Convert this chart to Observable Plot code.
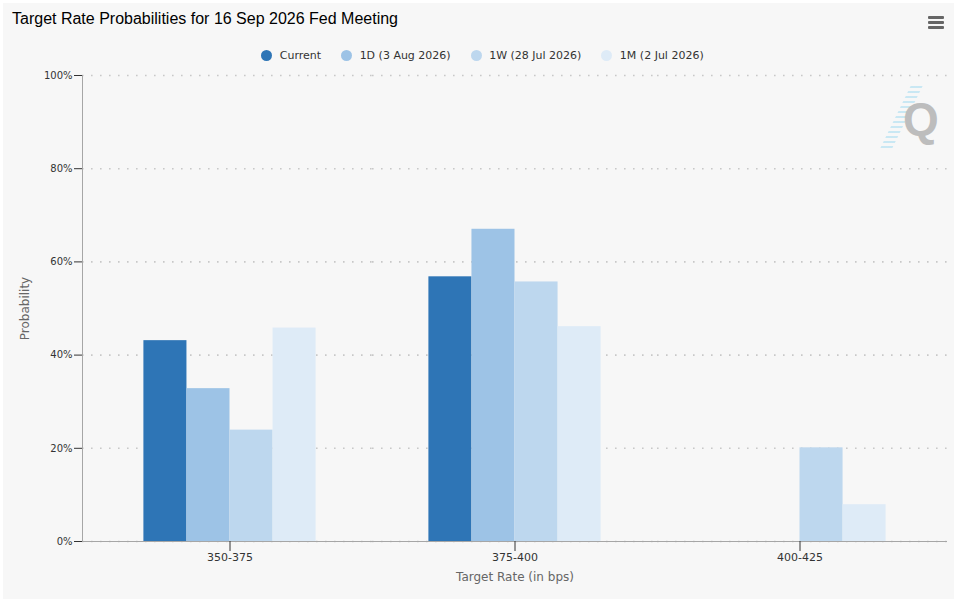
<!DOCTYPE html>
<html>
<head>
<meta charset="utf-8">
<script src="https://cdn.jsdelivr.net/npm/d3@7"></script>
<script src="https://cdn.jsdelivr.net/npm/@observablehq/plot@0.6"></script>
<style>
  html, body { margin: 0; padding: 0; background: #ffffff; }
  body { width: 957px; height: 602px; position: relative; overflow: hidden; }
  #card { position: absolute; left: 3px; top: 3px; width: 951px; height: 596px; background: #f7f7f7; }
  #title { position: absolute; left: 12px; top: 8px; font-family: "Liberation Sans", Arial, sans-serif; font-size: 16px; line-height: 22px; color: #000; white-space: nowrap; }
  #legend { position: absolute; left: 7px; width: 951px; top: 48px; height: 14px; display: flex; justify-content: center; align-items: center; font-family: "DejaVu Sans", sans-serif; font-size: 11px; color: #333; }
  .item { display: flex; align-items: center; margin: 0 10px; white-space: nowrap; }
  .dot { width: 11px; height: 11px; border-radius: 50%; margin-right: 7.5px; }
  #menu { position: absolute; left: 928px; top: 16px; width: 16px; }
  #menu div { height: 3px; background: #666; margin-bottom: 2px; border-radius: 1px; }
  #logoQ { position: absolute; left: 903px; top: 96px; font-family: "Liberation Sans", Arial, sans-serif; font-weight: bold; font-size: 46px; line-height: 46px; color: #bdbdbd; }
  #logoLines { position: absolute; left: 895px; top: 86px; width: 12px; height: 64px; transform: skewX(-26deg); background: repeating-linear-gradient(to bottom, #c4e6f3 0 1.5px, transparent 1.5px 5px); opacity: 0.9; }
  #chart { position: absolute; left: 0; top: 60px; }
  #chart g[aria-label="y-axis tick label"] { font-size: 10px; fill: #333; }
  #chart g[aria-label="fx-axis tick label"] { font-size: 11px; fill: #333; }
  #chart g[aria-label="y-axis label"], #chart g[aria-label="fx-axis label"] { font-size: 12px; fill: #666; }
  #chart g[aria-label="y-axis tick"], #chart g[aria-label="fx-axis tick"] { stroke: #a6a6a6; }
</style>
</head>
<body>
<div id="card"></div>
<div id="title">Target Rate Probabilities for 16 Sep 2026 Fed Meeting</div>
<div id="legend"></div>
<div id="menu"><div></div><div></div><div></div></div>
<div id="logoLines"></div>
<div id="logoQ">Q</div>
<div id="chart"></div>
<script>
// ---- data ----
const categories = ["350-375", "375-400", "400-425"];
const seriesNames = ["Current", "1D (3 Aug 2026)", "1W (28 Jul 2026)", "1M (2 Jul 2026)"];
const current = [43.1, 56.8, 0];
const oneDay = [32.8, 67.0, 0];
const oneWeek = [23.9, 55.7, 20.1];
const oneMonth = [45.8, 46.1, 7.9];
const seriesColors = ["#2e75b6", "#9dc3e6", "#bdd7ee", "#deebf7"];
const yTicks = [0, 20, 40, 60, 80, 100];
const xLabel = "Target Rate (in bps)";
const yLabel = "Probability";

// ---- table ----
const seriesValues = [current, oneDay, oneWeek, oneMonth];
const rows = [];
categories.forEach((c, i) => {
  seriesNames.forEach((s, j) => {
    rows.push({category: c, series: s, value: seriesValues[j][i]});
  });
});
// grid rows per facet, so the outer facets can extend to the plot edge
const gridRows = categories.flatMap(c => yTicks.map(t => ({category: c, tick: t})));
const edge = 5; // outer facet padding in px (fx paddingOuter)
const gridStyle = {stroke: "#c8c8c8", strokeOpacity: 1, strokeWidth: 1.6, strokeDasharray: "1.6,7.4"};
const last = categories.length - 1;

// ---- legend ----
const legend = document.getElementById("legend");
seriesNames.forEach((s, j) => {
  const item = document.createElement("div");
  item.className = "item";
  const dot = document.createElement("span");
  dot.className = "dot";
  dot.style.background = seriesColors[j];
  const label = document.createElement("span");
  label.textContent = s;
  item.appendChild(dot);
  item.appendChild(label);
  legend.appendChild(item);
});

// ---- chart ----
const chart = Plot.plot({
  width: 957,
  height: 535,
  marginTop: 15,
  marginLeft: 80,
  marginRight: 9,
  marginBottom: 54,
  style: {background: "transparent", fontFamily: "DejaVu Sans, sans-serif", fontSize: "11px", color: "#333", overflow: "visible"},
  fx: {domain: categories, paddingInner: 0, paddingOuter: 0.0175},
  x: {domain: seriesNames, axis: null, paddingInner: 0, paddingOuter: 1.31, round: false},
  y: {domain: [0, 100]},
  color: {domain: seriesNames, range: seriesColors},
  marks: [
    Plot.ruleY(gridRows.filter(d => d.category === categories[0]), {fx: "category", y: "tick", insetLeft: -edge, ...gridStyle}),
    Plot.ruleY(gridRows.filter(d => d.category !== categories[0] && d.category !== categories[last]), {fx: "category", y: "tick", ...gridStyle}),
    Plot.ruleY(gridRows.filter(d => d.category === categories[last]), {fx: "category", y: "tick", insetRight: -edge, ...gridStyle}),
    Plot.barY(rows.filter(d => d.value > 0), {fx: "category", x: "series", y: "value", fill: "series"}),
    Plot.ruleY([0], {stroke: "#a6a6a6", strokeWidth: 1, insetLeft: -edge, insetRight: -edge}),
    Plot.frame({anchor: "left", facetAnchor: "left", stroke: "#a6a6a6", dx: -edge}),
    Plot.axisY({ticks: yTicks, tickFormat: d => d + "%", tickSize: 8, tickPadding: 2, dx: -edge, label: yLabel, labelArrow: false, labelAnchor: "center", labelOffset: 67}),
    Plot.axisFx({anchor: "bottom", tickSize: 10, tickPadding: 2, label: xLabel, labelArrow: false, labelAnchor: "center", labelOffset: 39})
  ]
});
document.getElementById("chart").appendChild(chart);
</script>
</body>
</html>
